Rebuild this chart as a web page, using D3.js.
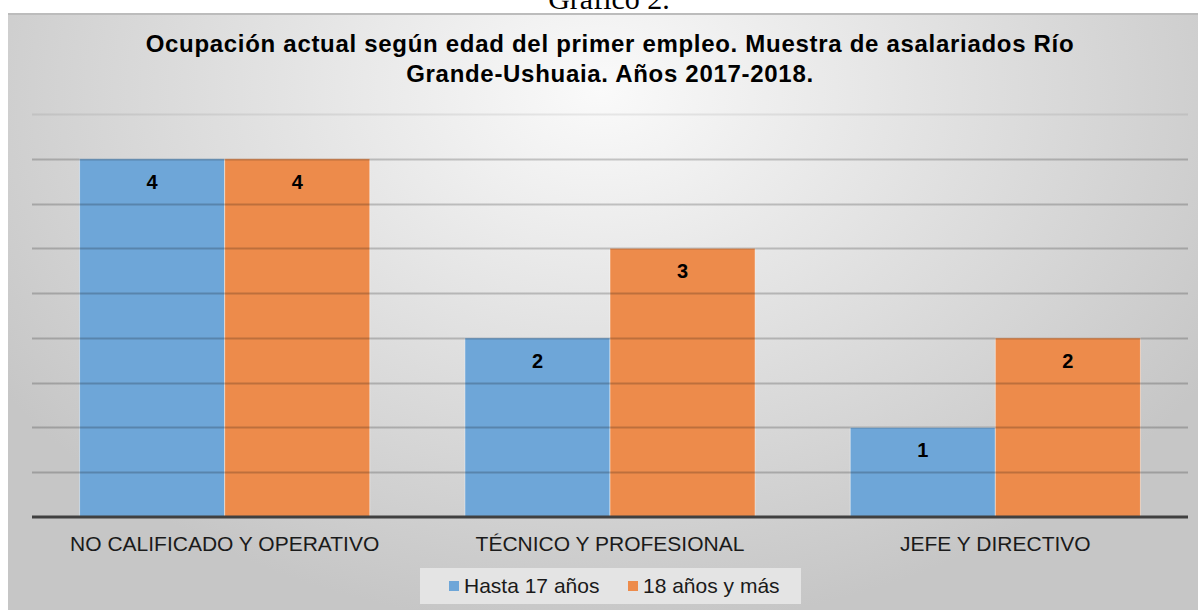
<!DOCTYPE html>
<html>
<head>
<meta charset="utf-8">
<script src="https://cdn.jsdelivr.net/npm/d3@7"></script>
<style>
  body { margin: 0; background: #fff; }
  svg { display: block; }
</style>
</head>
<body>
<div id="chart"></div>
<script>
// data
const categories = ["NO CALIFICADO Y OPERATIVO", "TÉCNICO Y PROFESIONAL", "JEFE Y DIRECTIVO"];
const seriesNames = ["Hasta 17 años", "18 años y más"];
const hasta17 = [4, 2, 1];
const mas18 = [4, 3, 2];
const gridTicks = [0.5, 1, 1.5, 2, 2.5, 3, 3.5, 4, 4.5];
const titleLines = ["Ocupación actual según edad del primer empleo. Muestra de asalariados Río",
                    "Grande-Ushuaia. Años 2017-2018."];

const svgWidth = 1198, svgHeight = 610;
const margin = { top: 114, right: 10, bottom: 93, left: 32 };
const plotRight = 1188;

const rows = categories.map((c, i) => ({ cat: c, values: [hasta17[i], mas18[i]] }));

const colors = ["#6ea6d8", "#ed8b4b"];

const svg = d3.select("#chart")
  .append("svg")
  .attr("width", svgWidth)
  .attr("height", svgHeight);

// background gradient
const defs = svg.append("defs");
const grad = defs.append("radialGradient")
  .attr("id", "bg")
  .attr("gradientUnits", "userSpaceOnUse")
  .attr("cx", 600).attr("cy", 90).attr("r", 720)
  .attr("gradientTransform", "translate(600,90) scale(1,0.75) translate(-600,-90)");
grad.append("stop").attr("offset", "0%").attr("stop-color", "#fafafa");
grad.append("stop").attr("offset", "100%").attr("stop-color", "#c6c6c6");

svg.append("rect")
  .attr("x", 8).attr("y", 13)
  .attr("width", svgWidth - 8).attr("height", svgHeight - 13)
  .attr("fill", "url(#bg)");
svg.append("line")
  .attr("x1", 8).attr("x2", svgWidth)
  .attr("y1", 14).attr("y2", 14)
  .attr("stroke", "#bcbcbc").attr("stroke-width", 2);

// caption above the chart, cut by the picture edge
svg.append("text")
  .attr("x", 609).attr("y", 9)
  .attr("text-anchor", "middle")
  .attr("font-family", "Liberation Serif, Times New Roman, serif")
  .attr("font-size", 30)
  .attr("fill", "#000")
  .text("Gráfico 2.");

// title
svg.append("g")
  .selectAll("text")
  .data(titleLines)
  .join("text")
  .attr("x", 610)
  .attr("y", (d, i) => 52 + i * 30)
  .attr("text-anchor", "middle")
  .attr("font-family", "Liberation Sans, Arial, sans-serif")
  .attr("font-weight", "bold")
  .attr("font-size", 24)
  .attr("letter-spacing", 0.7)
  .attr("fill", "#000")
  .text(d => d);

// scales
const x0 = d3.scaleBand()
  .domain(categories)
  .range([margin.left, plotRight])
  .paddingInner(0.247)
  .paddingOuter(0.1235);

const x1 = d3.scaleBand()
  .domain([0, 1])
  .range([0, x0.bandwidth()]);

const y = d3.scaleLinear()
  .domain([0, 4.5])
  .range([517, 114]);

// bars
const groups = svg.append("g")
  .selectAll("g")
  .data(rows)
  .join("g")
  .attr("transform", d => `translate(${x0(d.cat)},0)`);

groups.selectAll("rect")
  .data(d => d.values)
  .join("rect")
  .attr("x", (d, i) => x1(i))
  .attr("y", d => y(d))
  .attr("width", x1.bandwidth())
  .attr("height", d => y(0) - y(d))
  .attr("fill", (d, i) => colors[i])
  .attr("stroke", "rgba(255,255,255,0.45)")
  .attr("stroke-width", 1);

// gridlines (show through the bars a little)
svg.append("g")
  .selectAll("line")
  .data(gridTicks)
  .join("line")
  .attr("x1", margin.left).attr("x2", plotRight)
  .attr("y1", d => Math.round(y(d)) + 0.5)
  .attr("y2", d => Math.round(y(d)) + 0.5)
  .attr("stroke", d => d === 4.5 ? "rgba(0,0,0,0.07)" : "rgba(0,0,0,0.2)")
  .attr("stroke-width", 2);

// value labels
groups.selectAll("text")
  .data(d => d.values)
  .join("text")
  .attr("x", (d, i) => x1(i) + x1.bandwidth() / 2)
  .attr("y", d => y(d) + 30)
  .attr("text-anchor", "middle")
  .attr("font-family", "Liberation Sans, Arial, sans-serif")
  .attr("font-weight", "bold")
  .attr("font-size", 20)
  .attr("fill", "#000")
  .text(d => d);

// axis
const xAxis = svg.append("g")
  .attr("transform", `translate(0,${y(0)})`)
  .call(d3.axisBottom(x0).tickSize(0).tickPadding(19));
xAxis.select(".domain")
  .attr("d", `M${margin.left},0H${plotRight}`)
  .attr("stroke", "#404040")
  .attr("stroke-width", 3);
xAxis.selectAll("text")
  .attr("font-family", "Liberation Sans, Arial, sans-serif")
  .attr("font-size", 21)
  .attr("fill", "#1a1a1a");

// legend
const legend = svg.append("g");
legend.append("rect")
  .attr("x", 420).attr("y", 568)
  .attr("width", 381).attr("height", 36)
  .attr("fill", "#e4e4e4");

const legendX = [449, 628];
seriesNames.forEach((name, i) => {
  legend.append("rect")
    .attr("x", legendX[i]).attr("y", 581)
    .attr("width", 10).attr("height", 10)
    .attr("fill", colors[i]);
  legend.append("text")
    .attr("x", legendX[i] + 15).attr("y", 593)
    .attr("font-family", "Liberation Sans, Arial, sans-serif")
    .attr("font-size", 21)
    .attr("fill", "#1a1a1a")
    .text(name);
});
</script>
</body>
</html>
